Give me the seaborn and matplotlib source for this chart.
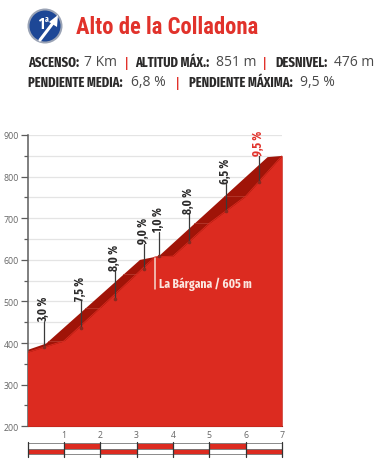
import matplotlib
matplotlib.use("Agg")
import matplotlib.pyplot as plt
import matplotlib.patches as mpatches
import numpy as np
import pandas as pd
import seaborn as sns

# profile, back edge (dark band) and front edge (red)
back_km = [0, 0.5, 3.08, 3.6, 6.59, 7]
back_alt = [385, 400, 601, 610, 848, 851]
front_km = [0, 1, 2, 3, 3.5, 4, 5, 6, 7]
front_alt = [378, 405, 485, 566, 607, 609, 688, 753, 850]

# slope labels
pend_labels = ["3,0 %", "7,5 %", "8,0 %", "9,0 %", "1,0 %", "8,0 %", "6,5 %", "9,5 %"]
pend_km = [0.46, 1.47, 2.41, 3.2, 3.62, 4.44, 5.46, 6.37]
pend_bottom = [390, 436, 505, 578, 609, 643, 717, 787]
pend_top = [450, 501, 573, 638, 667, 710, 782, 849]

y_labels = [200, 300, 400, 500, 600, 700, 800, 900]
y_minor = [250, 350, 450, 550, 650, 750, 850]
grid_alt = [250, 300, 350, 400, 450, 500, 550, 600, 650, 700, 750, 800, 850, 900]
km_labels = [1, 2, 3, 4, 5, 6, 7]

title = "Alto de la Colladona"
line1 = [("ASCENSO:", 28, True), ("7 Km", 84, False), ("ALTITUD MÁX.:", 135, True),
         ("851 m", 216, False), ("DESNIVEL:", 275, True), ("476 m", 334, False)]
line2 = [("PENDIENTE MEDIA:", 28, True), ("6,8 %", 131, False),
         ("PENDIENTE MÁXIMA:", 189, True), ("9,5 %", 300, False)]
seps = [(127, 63), (265, 63), (178, 83)]

RED = "#dc2b20"
DARK = "#a01408"
NARROW = ["Fira Sans Extra Condensed", "Barlow Condensed", "Liberation Sans"]

sns.set_style("white")
plt.rcParams["font.family"] = ["Open Sans", "DejaVu Sans"]

W, H = 389, 464
fig = plt.figure(figsize=(W / 100, H / 100), dpi=100)

# overlay in pixels for the header
bg = fig.add_axes([0, 0, 1, 1])
bg.set_xlim(0, W)
bg.set_ylim(H, 0)
bg.axis("off")

# badge
bg.add_patch(mpatches.Circle((45, 27), 17.5, fc="#9aa3b5", ec="none"))
bg.add_patch(mpatches.Circle((45, 27), 15.5, fc="#1d4796", ec="none"))
bg.plot([40, 53], [41, 24], color="white", lw=2.2, solid_capstyle="round")
bg.add_patch(mpatches.Polygon([[49, 23], [58, 16], [57, 28]], fc="white", ec="none"))
bg.text(38, 24, "1", color="white", fontsize=11, fontweight="bold", family=NARROW, ha="left", va="center")
bg.text(44.5, 19.5, "a", color="white", fontsize=6, fontweight="bold", family=NARROW, ha="left", va="center")

bg.text(76, 28, title, color="#e1322b", fontsize=16.3, fontweight="bold",
        family=["Roboto Condensed", "Liberation Sans"], va="center")

for y, row in [(63, line1), (83, line2)]:
    for txt, x, bold in row:
        if bold:
            bg.text(x, y, txt, color="#2b2a2a", fontsize=9.8, fontweight="bold", family=NARROW, va="center")
        else:
            bg.text(x, y, txt, color="#4a4a4a", fontsize=10, va="center")
for x, y in seps:
    bg.text(x, y, "|", color="#e1322b", fontsize=9.5, fontweight="bold", ha="center", va="center")

# main profile
ax = fig.add_axes([27.5 / W, 1 - 427.3 / H, 254.5 / W, 291.3 / H])
ax.set_xlim(0, 7)
ax.set_ylim(200, 900)
ax.patch.set_alpha(0)

for g in grid_alt:
    ax.axhline(g, color="#e4e4e4", lw=0.9, zorder=1)

back = pd.DataFrame({"km": back_km, "alt": back_alt})
front = pd.DataFrame({"km": front_km, "alt": front_alt})
ax.fill_between(back["km"], 200, back["alt"], color=DARK, lw=0, zorder=2)
# faint step lines across the band
for k, a in zip(front_km, front_alt):
    if k in (1, 2, 3, 5, 6):
        ax.plot([np.interp(a, back_alt, back_km), k], [a, a], color="#b5382c", lw=0.6, zorder=2.5)
ax.fill_between(front["km"], 200, front["alt"], color=RED, lw=0, zorder=3)
sns.lineplot(data=front, x="km", y="alt", color=RED, lw=0.6, ax=ax, zorder=3)

# slope leaders and rotated labels
for lab, k, b, t in zip(pend_labels, pend_km, pend_bottom, pend_top):
    col = "#e1322b" if lab == "9,5 %" else "#2b2a2a"
    ax.plot([k, k], [b, t], color="#3a3a3a", lw=0.9, zorder=4, clip_on=False)
    ax.plot([k], [b], "o", ms=1.6, color="#8a2a20", zorder=4)
    ax.text(k - 0.02, t + 3, lab, rotation=90, color=col, fontsize=8.8, fontweight="bold",
            family=NARROW, ha="center", va="bottom", zorder=5)

# La Bargana
ax.plot([3.5, 3.5], [530, 605], color="#f6d9d0", lw=1.1, zorder=4)
ax.text(3.62, 543, "La Bárgana / 605 m", color="#fbe6df", fontsize=9, fontweight="bold",
        family=NARROW, va="center", zorder=5)

sns.despine(ax=ax, top=True, right=True)
ax.spines["left"].set_color("#5c5c5c")
ax.spines["left"].set_linewidth(1.1)
ax.spines["bottom"].set_color("#7a1a10")
ax.spines["bottom"].set_linewidth(0.8)
ax.set_yticks(y_labels)
ax.set_yticks(y_minor, minor=True)
ax.tick_params(axis="y", which="major", length=5, width=0.9, color="#5c5c5c", labelsize=6.3,
               labelcolor="#666666", pad=1, left=True)
ax.tick_params(axis="y", which="minor", length=3, width=0.9, color="#5c5c5c", left=True)
ax.set_xticks(km_labels)
ax.tick_params(axis="x", length=0, labelsize=6.3, labelcolor="#666666", pad=3)
ax.set_xlabel("")
ax.set_ylabel("")

# km strip
st = fig.add_axes([27.5 / W, 1 - 458 / H, 254.5 / W, 15 / H])
st.set_xlim(0, 7)
st.set_ylim(0, 2)
st.axis("off")
for k in range(7):
    top_red = k % 2 == 1
    st.barh(1.47, 1, height=0.72, left=k, align="center", color=RED if top_red else "white",
            ec="#777777", lw=0.6)
    st.barh(0.75, 1, height=0.72, left=k, align="center", color="white" if top_red else RED,
            ec="#777777", lw=0.6)
for k in range(8):
    st.plot([k, k], [0, 2], color="#333333", lw=0.9, clip_on=False)

fig.savefig("out.png", dpi=100)
